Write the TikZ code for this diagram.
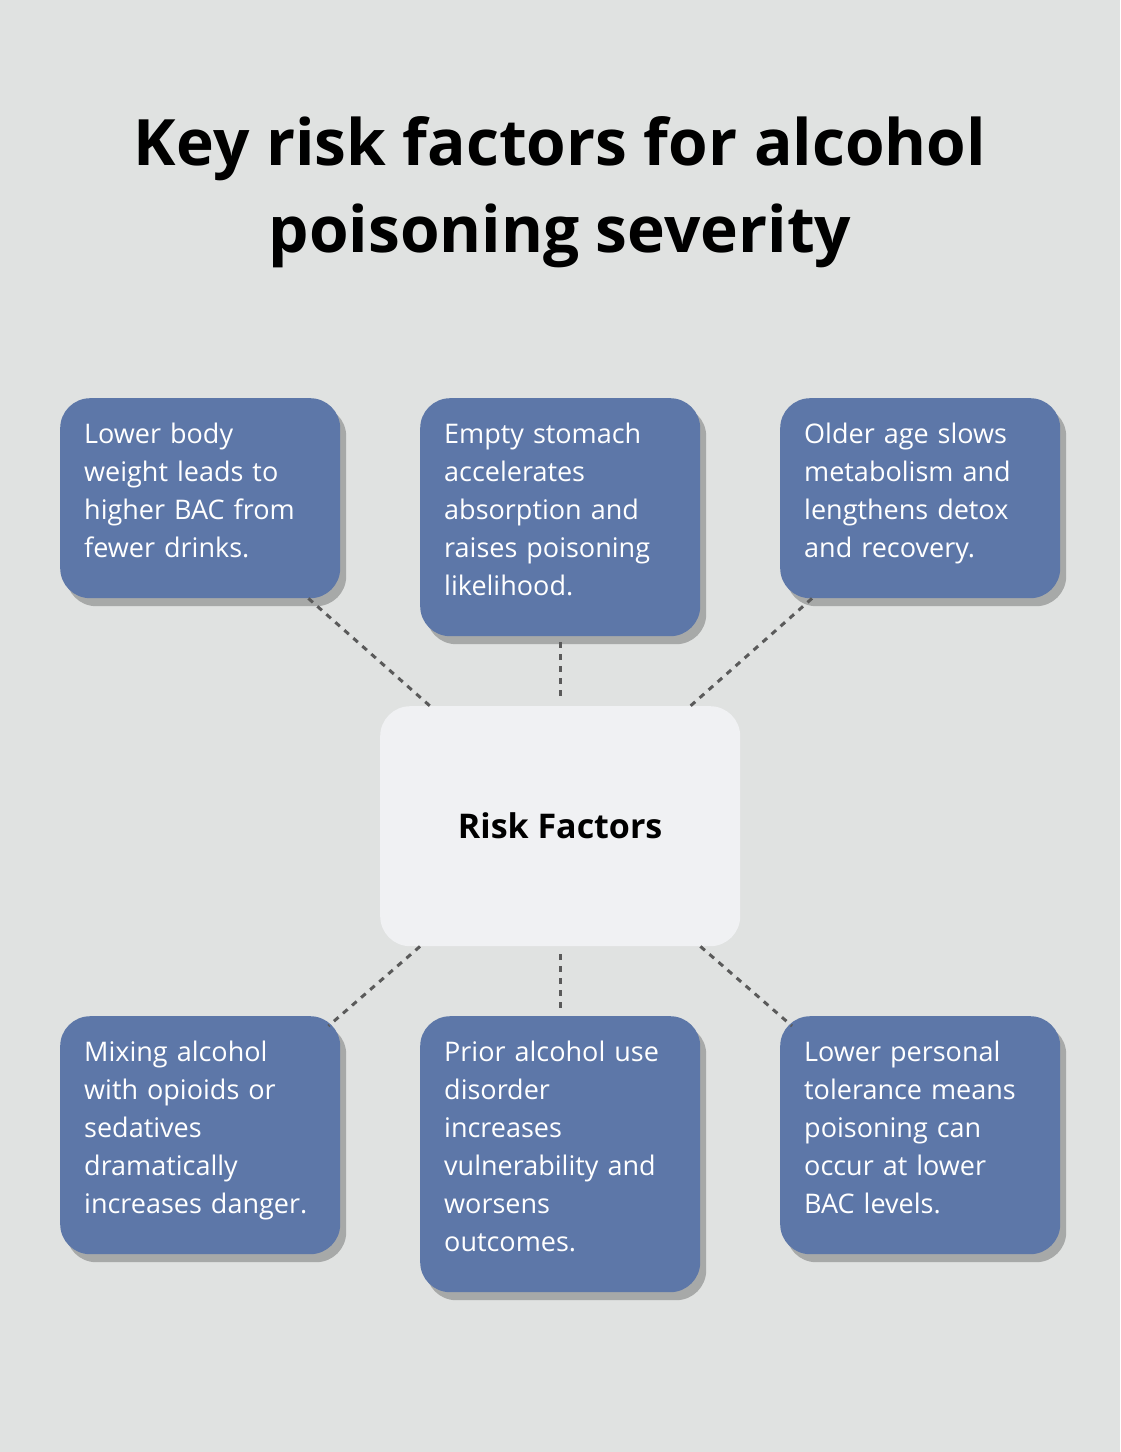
\documentclass[tikz,border=0pt]{standalone}
\usepackage{fontspec}
\setmainfont{Open Sans}
\usetikzlibrary{shadows,calc}
\definecolor{bg}{HTML}{E0E2E1}
\definecolor{boxblue}{HTML}{5D77A8}
\definecolor{centerc}{HTML}{F0F1F3}
\definecolor{dotc}{HTML}{5A5A5A}
\begin{document}
\begin{tikzpicture}[x=1pt,y=-1pt,
  bluebox/.style={draw=none,fill=boxblue,rounded corners=30pt,minimum width=280pt,anchor=north west,inner sep=0pt,drop shadow={shadow xshift=6pt,shadow yshift=-8pt,opacity=0.25,fill=black}},
  boxtext/.style={anchor=north west,text=white,align=left,text width=260pt,inner sep=0pt,font=\fontsize{27}{38}\selectfont},
  conn/.style={draw=dotc,line width=3pt,dash pattern=on 6pt off 6pt}]
\fill[bg] (0,0) rectangle (1120,1452);
\useasboundingbox (0,0) rectangle (1120,1452);
\node[font=\bfseries\fontsize{64}{87}\selectfont,align=center] (title) at (560,192) {Key risk factors for alcohol\\poisoning severity};
\node[bluebox,minimum height=200pt] (b1) at (60,398) {};
\node[bluebox,minimum height=238pt] (b2) at (420,398) {};
\node[bluebox,minimum height=200pt] (b3) at (780,398) {};
\node[bluebox,minimum height=238pt] (b4) at (60,1016) {};
\node[bluebox,minimum height=276pt] (b5) at (420,1016) {};
\node[bluebox,minimum height=238pt] (b6) at (780,1016) {};
\node[draw=none,fill=centerc,rounded corners=30pt,minimum width=360pt,minimum height=240pt,anchor=north west,inner sep=0pt] (c) at (380,706) {};
\node[font=\bfseries\fontsize{34}{40}\selectfont] (ct) at (c.center) {Risk Factors};
\node[boxtext] (t1) at (84,423) {Lower body\\weight leads to\\higher BAC from\\fewer drinks.};
\node[boxtext] (t2) at (444,423) {Empty stomach\\accelerates\\absorption and\\raises poisoning\\likelihood.};
\node[boxtext] (t3) at (804,423) {Older age slows\\metabolism and\\lengthens detox\\and recovery.};
\node[boxtext] (t4) at (84,1041) {Mixing alcohol\\with opioids or\\sedatives\\dramatically\\increases danger.};
\node[boxtext] (t5) at (444,1041) {Prior alcohol use\\disorder\\increases\\vulnerability and\\worsens\\outcomes.};
\node[boxtext] (t6) at (804,1041) {Lower personal\\tolerance means\\poisoning can\\occur at lower\\BAC levels.};
\draw[conn] ($(b1.south east)+(-32,0)$) -- ($(c.north west)+(50,0)$);
\draw[conn] ($(b2.south)+(0,6)$) -- ($(c.north)+(0,-6)$);
\draw[conn] ($(b3.south west)+(32,0)$) -- ($(c.north east)+(-50,0)$);
\draw[conn] ($(c.south west)+(40,0)$) -- ($(b4.north east)+(-12,10)$);
\draw[conn] ($(c.south)+(0,8)$) -- ($(b5.north)+(0,-6)$);
\draw[conn] ($(c.south east)+(-40,0)$) -- ($(b6.north west)+(12,10)$);
\end{tikzpicture}
\end{document}
